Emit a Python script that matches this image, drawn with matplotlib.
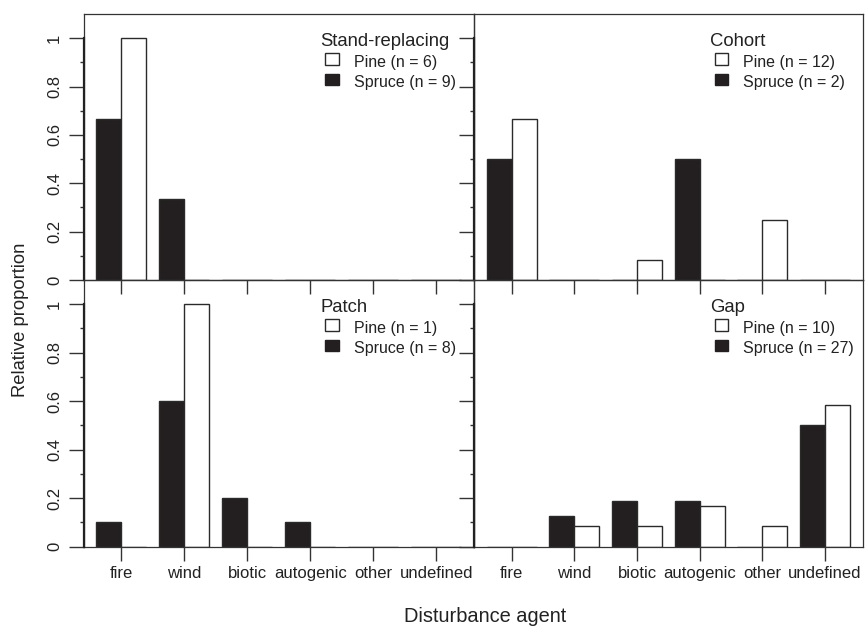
import matplotlib
matplotlib.use("Agg")
import matplotlib.pyplot as plt
from matplotlib.patches import Rectangle
import matplotlib.transforms as mtransforms
import numpy as np

plt.rcParams['font.family'] = ['Liberation Sans', 'DejaVu Sans']

agents = ['fire', 'wind', 'biotic', 'autogenic', 'other', 'undefined']
panel_titles = ['Stand-replacing', 'Cohort', 'Patch', 'Gap']
pine_n = [6, 12, 1, 10]
spruce_n = [9, 2, 8, 27]

sr_spruce = [0.667, 0.333, 0, 0, 0, 0]
sr_pine = [1.0, 0, 0, 0, 0, 0]
cohort_spruce = [0.5, 0, 0, 0.5, 0, 0]
cohort_pine = [0.667, 0, 0.083, 0, 0.25, 0]
patch_spruce = [0.1, 0.6, 0.2, 0.1, 0, 0]
patch_pine = [0, 1.0, 0, 0, 0, 0]
gap_spruce = [0, 0.125, 0.1875, 0.1875, 0, 0.5]
gap_pine = [0, 0.083, 0.083, 0.167, 0.083, 0.583]

spruce_vals = [sr_spruce, cohort_spruce, patch_spruce, gap_spruce]
pine_vals = [sr_pine, cohort_pine, patch_pine, gap_pine]

W, H = 868, 627
fig = plt.figure(figsize=(W / 100, H / 100), dpi=100)

DARK = '#231f20'
EDGE = '#2a2a2a'
TXT = '#222222'
FS_TICK = 12
FS_LEG = 11.5
FS_TITLE = 13.3

# panel geometry in pixels (left, right, top, bottom)
cols = [(83.5, 474.0), (474.0, 862.7)]
rows = [(14.0, 280.0), (280.0, 546.5)]

x = np.arange(len(agents)) * 2.5
axes = []
for k in range(4):
    r, c = divmod(k, 2)
    l, rr = cols[c]
    t, b = rows[r]
    ax = fig.add_axes([l / W, 1 - b / H, (rr - l) / W, (b - t) / H])
    ax.patch.set_visible(False)
    axes.append(ax)

    ax.bar(x + 1.0, spruce_vals[k], width=1.0, color=DARK, edgecolor=EDGE,
           linewidth=1.0, zorder=2)
    ax.bar(x + 2.0, pine_vals[k], width=1.0, color='white', edgecolor=EDGE,
           linewidth=1.0, zorder=2)

    ax.set_xlim(0, 15.5)
    ax.set_ylim(0, 1.1)
    for s in ax.spines.values():
        s.set_linewidth(0.9)
        s.set_color('#333333')

    ax.set_xticks(x + 1.5)
    if r == 1:
        ax.set_xticklabels(agents, fontsize=FS_TICK, color=TXT)
    else:
        ax.set_xticklabels([])
    ax.tick_params(axis='x', direction='out', length=10, width=1.0,
                   color='#333333', pad=4)

    ax.set_yticks([0, 0.2, 0.4, 0.6, 0.8, 1.0])
    ax.set_yticks([0.1, 0.3, 0.5, 0.7, 0.9], minor=True)
    if c == 0:
        ax.set_yticklabels(['0', '0.2', '0.4', '0.6', '0.8', '1'],
                           rotation=90, va='center', fontsize=FS_TICK,
                           color=TXT)
    else:
        ax.set_yticklabels([])
    ax.tick_params(axis='y', which='major', direction='out', length=10.5,
                   width=1.0, color='#333333', pad=5)
    ax.tick_params(axis='y', which='minor', direction='out', length=3,
                   width=1.0, color='#333333')

    # thicker axis line from 0 to 1
    trans = mtransforms.blended_transform_factory(ax.transAxes, ax.transData)
    ax.plot([0, 0], [0, 1], transform=trans, color=TXT, lw=1.6,
            clip_on=False, zorder=3)

    # legend
    ph = b - t
    def fy(px):
        return 1 - px / ph
    ax.text(0.607, fy(32.0), panel_titles[k], transform=ax.transAxes,
            fontsize=FS_TITLE, color=TXT, va='baseline', ha='left')
    ax.add_patch(Rectangle((0.619, fy(51.0)), 0.0355, 11.7 / ph,
                           transform=ax.transAxes, facecolor='white',
                           edgecolor=EDGE, lw=1.0, clip_on=False))
    ax.add_patch(Rectangle((0.619, fy(71.0)), 0.0355, 11.0 / ph,
                           transform=ax.transAxes, facecolor=DARK,
                           edgecolor=DARK, lw=1.0, clip_on=False))
    ax.text(0.693, fy(52.5), f'Pine (n = {pine_n[k]})',
            transform=ax.transAxes, fontsize=FS_LEG, color=TXT,
            va='baseline', ha='left')
    ax.text(0.693, fy(73.0), f'Spruce (n = {spruce_n[k]})',
            transform=ax.transAxes, fontsize=FS_LEG, color=TXT,
            va='baseline', ha='left')

fig.text(20.5 / W, 1 - 320 / H, 'Relative proportion', rotation=90,
         ha='center', va='center', fontsize=13.2, color=TXT)
fig.text(485 / W, 1 - 617 / H, 'Disturbance agent', ha='center',
         va='center', fontsize=14.4, color=TXT)

fig.savefig('out.png', dpi=100, facecolor='white')
